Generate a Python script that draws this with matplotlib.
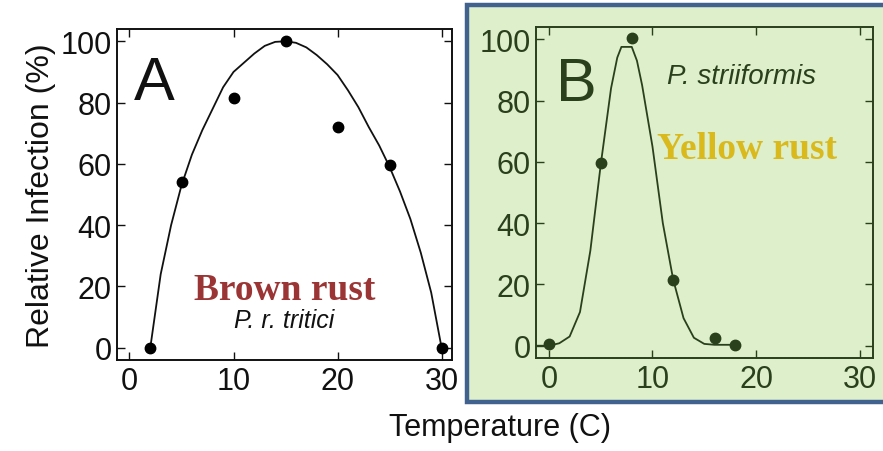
import matplotlib.pyplot as plt
from matplotlib.patches import Rectangle
import numpy as np

# Panel A: brown rust (P. r. tritici)
temp_a = [2, 5, 10, 15, 20, 25, 30]
infect_a = [0, 54, 81.5, 100, 72, 59.5, 0]
curve_a_x = [2, 2.5, 3, 4, 5, 6, 7, 8, 9, 10, 11, 12, 13, 14, 15, 16, 17, 18, 19,
             20, 21, 22, 23, 24, 25, 26, 27, 28, 29, 29.5, 30]
curve_a_y = [0, 12, 24, 40, 53, 63, 71, 78, 85, 90, 93, 96, 98.5, 99.8, 100, 99.5,
             98, 95.5, 92.5, 89, 84, 78.5, 72, 66, 59, 51, 42, 31, 18, 9, 0]

# Panel B: yellow rust (P. striiformis)
temp_b = [0, 5, 8, 12, 16, 18]
infect_b = [0.4, 59.5, 100.4, 21.5, 2.4, 0.3]
curve_b_x = [-1.2, 0, 1, 2, 3, 4, 5, 6, 6.6, 7, 8, 8.5, 9, 10, 11, 12, 13, 14,
             15, 16, 18]
curve_b_y = [0, 0, 0.8, 3, 11, 31, 59, 84, 94, 97.5, 97.5, 93, 85, 65, 40, 21.6,
             9, 2.6, 0.6, 0.3, 0.3]

yticks = [0, 20, 40, 60, 80, 100]
xticks = [0, 10, 20, 30]

plt.rcParams['font.family'] = ['Liberation Sans', 'DejaVu Sans']

fig = plt.figure(figsize=(8.83, 4.52), dpi=100)

# green background box behind panel B
bg = Rectangle((0.5285, 0.108), 0.5, 0.878, transform=fig.transFigure,
               facecolor='#ddefcb', edgecolor='#41618f', linewidth=3.2,
               zorder=-5)
fig.patches.append(bg)

ax_a = fig.add_axes([0.1325, 0.2013, 0.3794, 0.7323])
ax_b = fig.add_axes([0.607, 0.2058, 0.3817, 0.7323])


def style_axis(ax, color):
    ax.set_ylim(-4, 104)
    ax.set_yticks(yticks)
    ax.set_xticks(xticks)
    ax.tick_params(direction='in', length=6, width=1, top=True, right=True,
                   labelsize=22, colors=color, pad=4)
    for s in ax.spines.values():
        s.set_color(color)
        s.set_linewidth(1.4)


ax_a.plot(curve_a_x, curve_a_y, color='#111111', lw=1.3)
ax_a.plot(temp_a, infect_a, 'o', color='#000000', ms=7.5)
ax_a.set_xlim(-1.2, 31)
style_axis(ax_a, '#111111')
ax_a.set_ylabel('Relative Infection (%)', fontsize=23, color='#111111',
                labelpad=3)
ax_a.text(0.05, 0.79, 'A', transform=ax_a.transAxes, fontsize=44,
          color='#111111')
ax_a.text(0.5, 0.185, 'Brown rust', transform=ax_a.transAxes, fontsize=27,
          fontweight='bold', family='Liberation Serif', color='#9b3535',
          ha='center')
ax_a.text(0.5, 0.1, 'P. r. tritici', transform=ax_a.transAxes, fontsize=18,
          style='italic', color='#111111', ha='center')

green = '#2a3f1c'
ax_b.set_facecolor('none')
ax_b.plot(curve_b_x, curve_b_y, color=green, lw=1.3)
ax_b.plot(temp_b, infect_b, 'o', color=green, ms=7.5)
ax_b.set_xlim(-1.25, 31.3)
style_axis(ax_b, green)
ax_b.text(0.06, 0.78, 'B', transform=ax_b.transAxes, fontsize=44, color=green)
ax_b.text(0.39, 0.83, 'P. striiformis', transform=ax_b.transAxes, fontsize=20,
          style='italic', color=green)
ax_b.text(0.36, 0.605, 'Yellow rust', transform=ax_b.transAxes, fontsize=27,
          fontweight='bold', family='Liberation Serif', color='#d9b91c')

fig.text(0.566, 0.053, 'Temperature (C)', fontsize=22, color='#111111',
         ha='center', va='center')

fig.savefig('out.png', dpi=100)
